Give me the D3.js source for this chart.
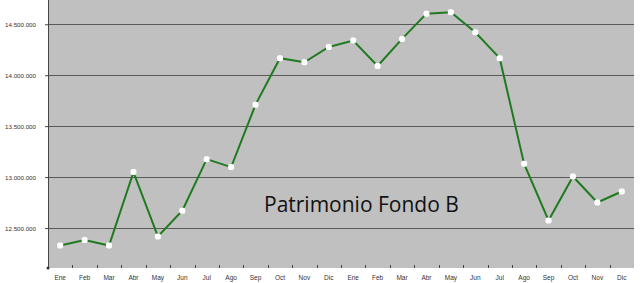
<!DOCTYPE html>
<html lang="es">
  <head>
    <meta charset="utf-8">
    <title>Patrimonio Fondo B</title>
    <style>
      body { margin: 0; background: #fff; }
      text { font-family: "Liberation Sans", Arial, sans-serif; }
    </style>
  </head>
  <body>

<script src="https://d3js.org/d3.v7.min.js"></script>

<script>
// months over two years
var months = ["Ene", "Feb", "Mar", "Abr", "May", "Jun", "Jul", "Ago", "Sep", "Oct", "Nov", "Dic",
              "Ene", "Feb", "Mar", "Abr", "May", "Jun", "Jul", "Ago", "Sep", "Oct", "Nov", "Dic"];

var patrimonio = [12329000, 12382000, 12329000, 13049000, 12418000, 12670000,
                  13176000, 13098000, 13711000, 14167000, 14127000, 14277000,
                  14340000, 14091000, 14356000, 14604000, 14618000, 14422000,
                  14167000, 13130000, 12575000, 13006000, 12751000, 12859000];

var yTicks = [12500000, 13000000, 13500000, 14000000, 14500000];

var title = "Patrimonio Fondo B";

// plot area
var margin = {top: 0, right: 6, bottom: 15, left: 48},
    W = 640, H = 283,
    w = W - margin.left - margin.right,
    h = H - margin.top - margin.bottom;

var svg = d3.select("body").append("svg")
  .attr("width", W)
  .attr("height", H);

var g = svg.append("g")
  .attr("transform", "translate(" + margin.left + "," + margin.top + ")");

// x: one band per month
var x = d3.scaleBand()
  .domain(d3.range(months.length))
  .range([0, w]);

var y = d3.scaleLinear()
  .domain([12108000, 14738000])
  .range([h, 0]);

// grey background
g.append("rect")
  .attr("width", w)
  .attr("height", h)
  .attr("fill", "#c0c0c0");

// horizontal grid lines
g.selectAll(".grid")
  .data(yTicks)
  .enter()
  .append("line")
    .attr("x1", 0)
    .attr("x2", w)
    .attr("y1", d => Math.round(y(d)) + 0.5)
    .attr("y2", d => Math.round(y(d)) + 0.5)
    .attr("stroke", "#5a5a5a")
    .attr("stroke-width", 1);

// y axis
var yAxis = g.append("g")
  .call(d3.axisLeft(y)
    .tickValues(yTicks)
    .tickSize(3)
    .tickPadding(9)
    .tickFormat(d => d3.format(",")(d).replace(/,/g, ".")));

yAxis.select(".domain").attr("stroke", "#444").attr("d", "M0.5,0V" + h);
yAxis.selectAll(".tick line").attr("stroke", "#444");
yAxis.selectAll("text")
  .attr("fill", "#333")
  .style("font-size", "6.2px");

// x axis: ticks at month boundaries, labels centred
var xg = g.append("g")
  .attr("transform", "translate(0," + h + ")");

xg.selectAll(".xtick")
  .data(d3.range(months.length))
  .enter()
  .append("line")
    .attr("x1", d => Math.round(x(d)) + 0.5)
    .attr("x2", d => Math.round(x(d)) + 0.5)
    .attr("y1", -3)
    .attr("y2", 0)
    .attr("stroke", "#444");

xg.selectAll(".xlab")
  .data(months)
  .enter()
  .append("text")
    .attr("x", (d, i) => x(i) + x.bandwidth() / 2)
    .attr("y", 12)
    .attr("text-anchor", "middle")
    .attr("fill", "#333")
    .style("font-size", "6.5px")
    .text(d => d);

xg.append("circle")
  .attr("cx", 0)
  .attr("cy", 0)
  .attr("r", 1.5)
  .attr("fill", "#333");

// the line
var line = d3.line()
  .x((d, i) => x(i) + x.bandwidth() / 2)
  .y(d => y(d));

g.append("path")
  .datum(patrimonio)
  .attr("d", line)
  .attr("fill", "none")
  .attr("stroke", "#1f7a1f")
  .attr("stroke-width", 2);

// white markers
g.selectAll(".pt")
  .data(patrimonio)
  .enter()
  .append("rect")
    .attr("x", (d, i) => x(i) + x.bandwidth() / 2 - 3)
    .attr("y", d => y(d) - 3)
    .attr("width", 6)
    .attr("height", 6)
    .attr("rx", 2)
    .attr("fill", "#fff");

// chart label inside the plot
svg.append("text")
  .attr("x", 264)
  .attr("y", 212)
  .style("font-family", "'Open Sans', 'Noto Sans', sans-serif")
  .style("font-size", "21px")
  .attr("fill", "#111")
  .text(title);
</script>

  </body>
</html>
